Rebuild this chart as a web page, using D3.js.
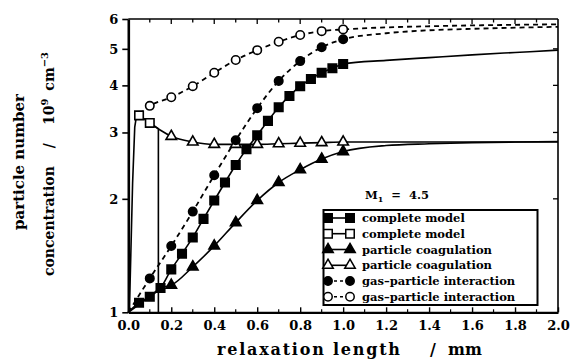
<!DOCTYPE html>
<html><head><meta charset="utf-8">
<script src="https://cdn.jsdelivr.net/npm/d3@7"></script>
<style>
body{margin:0;background:#fff;}
svg{display:block;font-family:"DejaVu Serif","Liberation Serif",serif;font-weight:bold;}
svg text{font-weight:bold;}
</style></head>
<body><svg id="c" width="573" height="361"></svg>
<script>
// ---- data ----
const xTickValues = [0,0.2,0.4,0.6,0.8,1.0,1.2,1.4,1.6,1.8,2.0];
const xTickLabels = ["0.0","0.2","0.4","0.6","0.8","1.0","1.2","1.4","1.6","1.8","2.0"];
const yTickValues = [1,2,3,4,5,6];
const yTickLabels = ["1","2","3","4","5","6"];

// complete model (filled squares, solid)
const cmFilledX = [0,0.05,0.1,0.15,0.2,0.25,0.3,0.35,0.4,0.45,0.5,0.55,0.6,0.65,0.7,0.75,0.8,0.85,0.9,0.95,1.0,1.2,1.4,1.6,1.8,2.0];
const cmFilledY = [1.0,1.06,1.10,1.16,1.30,1.43,1.58,1.77,1.98,2.21,2.46,2.71,2.95,3.22,3.50,3.75,3.98,4.16,4.32,4.44,4.56,4.66,4.74,4.82,4.89,4.96];
const cmFilledMarkX = [0.05,0.1,0.15,0.2,0.25,0.3,0.35,0.4,0.45,0.5,0.55,0.6,0.65,0.7,0.75,0.8,0.85,0.9,0.95,1.0];

// complete model (open squares, solid)
const cmOpenX = [0.005,0.02,0.03,0.04,0.05,0.1,0.14,0.14];
const cmOpenY = [1.0,2.2,3.1,3.37,3.33,3.18,3.07,1.0];
const cmOpenMarkX = [0.05,0.1];

// particle coagulation (filled triangles, solid)
const pcFilledX = [0,0.1,0.15,0.2,0.3,0.4,0.5,0.6,0.7,0.8,0.9,1.0,1.2,1.4,1.6,1.8,2.0];
const pcFilledY = [1.0,1.10,1.16,1.18,1.32,1.50,1.73,1.98,2.21,2.39,2.55,2.67,2.77,2.80,2.82,2.83,2.84];
const pcFilledMarkX = [0.2,0.3,0.4,0.5,0.6,0.7,0.8,0.9,1.0];

// particle coagulation (open triangles, solid)
const pcOpenX = [0.05,0.1,0.15,0.2,0.3,0.4,0.5,0.6,0.7,0.8,0.9,1.0,1.2,1.4,1.6,1.8,2.0];
const pcOpenY = [3.33,3.18,3.04,2.93,2.83,2.79,2.79,2.79,2.80,2.81,2.82,2.83,2.83,2.83,2.83,2.83,2.83];
const pcOpenMarkX = [0.2,0.3,0.4,0.5,0.6,0.7,0.8,0.9,1.0];

// gas-particle interaction (filled circles, dashed)
const gpFilledX = [0,0.1,0.2,0.3,0.4,0.5,0.6,0.7,0.8,0.9,1.0,1.2,1.4,1.6,1.8,2.0];
const gpFilledY = [1.0,1.23,1.50,1.85,2.31,2.86,3.48,4.11,4.64,5.05,5.30,5.50,5.60,5.65,5.69,5.72];
const gpFilledMarkX = [0.1,0.2,0.3,0.4,0.5,0.6,0.7,0.8,0.9,1.0];

// gas-particle interaction (open circles, dashed)
const gpOpenX = [0.05,0.1,0.2,0.3,0.4,0.5,0.6,0.7,0.8,0.9,1.0,1.2,1.4,1.6,1.8,2.0];
const gpOpenY = [3.35,3.53,3.72,3.98,4.32,4.67,4.96,5.22,5.44,5.57,5.63,5.70,5.74,5.77,5.79,5.81];
const gpOpenMarkX = [0.1,0.2,0.3,0.4,0.5,0.6,0.7,0.8,0.9,1.0];

const legendLabels = ["complete model","complete model","particle coagulation","particle coagulation","gas\u2013particle interaction","gas\u2013particle interaction"];

// ---- drawing ----
const svg = d3.select("#c");
const L=128.3, R=558, T=19, B=312.3;
const x = d3.scaleLinear().domain([0,2]).range([L,R]);
const y = d3.scaleLog().domain([1,6]).range([B,T]);

// frame
const g = svg.append("g");
g.append("line").attr("x1",L).attr("x2",R).attr("y1",T).attr("y2",T).attr("stroke","#000").attr("stroke-width",1.6);
g.append("line").attr("x1",R).attr("x2",R).attr("y1",T).attr("y2",B).attr("stroke","#000").attr("stroke-width",1.6);

// bottom axis (inward ticks)
const xa = svg.append("g").attr("transform",`translate(0,${B})`)
  .call(d3.axisBottom(x).tickValues(xTickValues).tickFormat((d,i)=>xTickLabels[i]).tickSizeInner(-5).tickSizeOuter(0).tickPadding(8));
xa.attr("font-family","DejaVu Serif").attr("font-size",13).attr("font-weight","bold");
xa.select(".domain").attr("stroke-width",2.2);
xa.selectAll(".tick line").attr("stroke-width",1.4);
xa.selectAll("text").attr("font-weight","bold");
// minor bottom ticks
const minorX = d3.range(1,20,2).map(i=>i/10);
svg.append("g").selectAll("line").data(minorX).join("line")
  .attr("x1",d=>x(d)).attr("x2",d=>x(d)).attr("y1",B).attr("y2",B-3).attr("stroke","#000").attr("stroke-width",1.2);
// top ticks
svg.append("g").selectAll("line").data(d3.range(1,20).map(i=>i/10)).join("line")
  .attr("x1",d=>x(d)).attr("x2",d=>x(d)).attr("y1",T).attr("y2",(d,i)=>T+(i%2?5:3.5)).attr("stroke","#000").attr("stroke-width",1.3);

// left axis (outward ticks)
const ya = svg.append("g").attr("transform",`translate(${L},0)`)
  .call(d3.axisLeft(y).tickValues(yTickValues).tickFormat((d,i)=>yTickLabels[i]).tickSizeInner(6).tickSizeOuter(0).tickPadding(4));
ya.attr("font-family","DejaVu Serif").attr("font-size",13).attr("font-weight","bold");
ya.select(".domain").attr("stroke-width",2.6);
ya.selectAll(".tick line").attr("stroke-width",1.6);
ya.selectAll("text").attr("font-weight","bold");
// right ticks inward
svg.append("g").selectAll("line").data([2,3,4,5]).join("line")
  .attr("x1",R).attr("x2",R-5).attr("y1",d=>y(d)).attr("y2",d=>y(d)).attr("stroke","#000").attr("stroke-width",1.3);

// series
function pts(xs,ys){return xs.map((v,i)=>[v,ys[i]]);}
const lineSmooth = d3.line().x(d=>x(d[0])).y(d=>y(d[1])).curve(d3.curveMonotoneX);
const lineStraight = d3.line().x(d=>x(d[0])).y(d=>y(d[1]));

const series = [
  {xs:cmFilledX, ys:cmFilledY, mk:cmFilledMarkX, shape:"square", fill:true, dash:null, gen:lineSmooth},
  {xs:cmOpenX, ys:cmOpenY, mk:cmOpenMarkX, shape:"square", fill:false, dash:null, gen:lineStraight},
  {xs:pcFilledX, ys:pcFilledY, mk:pcFilledMarkX, shape:"triangle", fill:true, dash:null, gen:lineSmooth},
  {xs:pcOpenX, ys:pcOpenY, mk:pcOpenMarkX, shape:"triangle", fill:false, dash:null, gen:lineSmooth},
  {xs:gpFilledX, ys:gpFilledY, mk:gpFilledMarkX, shape:"circle", fill:true, dash:"5,4", gen:lineSmooth},
  {xs:gpOpenX, ys:gpOpenY, mk:gpOpenMarkX, shape:"circle", fill:false, dash:"5,4", gen:lineSmooth}
];
const sym = {
  square: d3.symbol().type(d3.symbolSquare).size(72),
  triangle: d3.symbol().type(d3.symbolTriangle).size(48),
  circle: d3.symbol().type(d3.symbolCircle).size(56)
};
const lines = svg.append("g"), marks = svg.append("g");
series.forEach(s=>{
  const p = pts(s.xs,s.ys);
  lines.append("path").attr("d",s.gen(p)).attr("fill","none").attr("stroke","#000")
    .attr("stroke-width",s.dash?1.8:1.6).attr("stroke-dasharray",s.dash);
});
series.forEach(s=>{
  const p = pts(s.xs,s.ys).filter(d=>s.mk.includes(d[0]));
  marks.selectAll(null).data(p).join("path")
    .attr("transform",d=>`translate(${x(d[0])},${y(d[1])})`)
    .attr("d",sym[s.shape]())
    .attr("fill",s.fill?"#000":"#fff").attr("stroke","#000").attr("stroke-width",1.6);
});

// legend
const lg = svg.append("g");
lg.append("rect").attr("x",323.5).attr("y",210).attr("width",214).attr("height",95)
  .attr("fill","#fff").attr("stroke","#000").attr("stroke-width",2);
const rowY = [218,233.7,249.5,265.3,281,296.8];
series.forEach((s,i)=>{
  const yy=rowY[i];
  lg.append("line").attr("x1",328).attr("x2",350).attr("y1",yy).attr("y2",yy).attr("stroke","#000")
    .attr("stroke-width",1.6).attr("stroke-dasharray",s.dash?"3,3":null);
  [328,350].forEach(xx=>{
    lg.append("path").attr("transform",`translate(${xx},${yy})`).attr("d",sym[s.shape]())
      .attr("fill",s.fill?"#000":"#fff").attr("stroke","#000").attr("stroke-width",1.5);
  });
  lg.append("text").attr("x",362).attr("y",yy+4).attr("font-size",11.5).text(legendLabels[i]);
});
const mt = svg.append("text").attr("x",365).attr("y",199).attr("font-size",11.5);
mt.append("tspan").text("M");
mt.append("tspan").attr("font-size",8).attr("dy",3).text("1");
mt.append("tspan").attr("dy",-3).attr("dx",8).text("=");
mt.append("tspan").attr("dx",8).text("4.5");

// axis titles
svg.append("text").attr("x",217).attr("y",355).attr("font-size",16).attr("textLength",183).text("relaxation length");
svg.append("text").attr("x",433).attr("y",355).attr("font-size",16).attr("text-anchor","middle").text("/");
svg.append("text").attr("x",448).attr("y",355).attr("font-size",16).text("mm");

const t1 = svg.append("text").attr("transform","translate(24,162) rotate(-90)").attr("text-anchor","middle").attr("font-size",15).text("particle number");
const t2 = svg.append("text").attr("transform","translate(54,164) rotate(-90)").attr("text-anchor","middle").attr("font-size",14);
t2.append("tspan").text("concentration");
t2.append("tspan").attr("dx",18).text("/");
t2.append("tspan").attr("dx",18).text("10");
t2.append("tspan").attr("font-size",10).attr("dy",-6).text("9");
t2.append("tspan").attr("dy",6).attr("dx",8).text("cm");
t2.append("tspan").attr("font-size",10).attr("dy",-6).text("\u22123");
</script></body></html>
